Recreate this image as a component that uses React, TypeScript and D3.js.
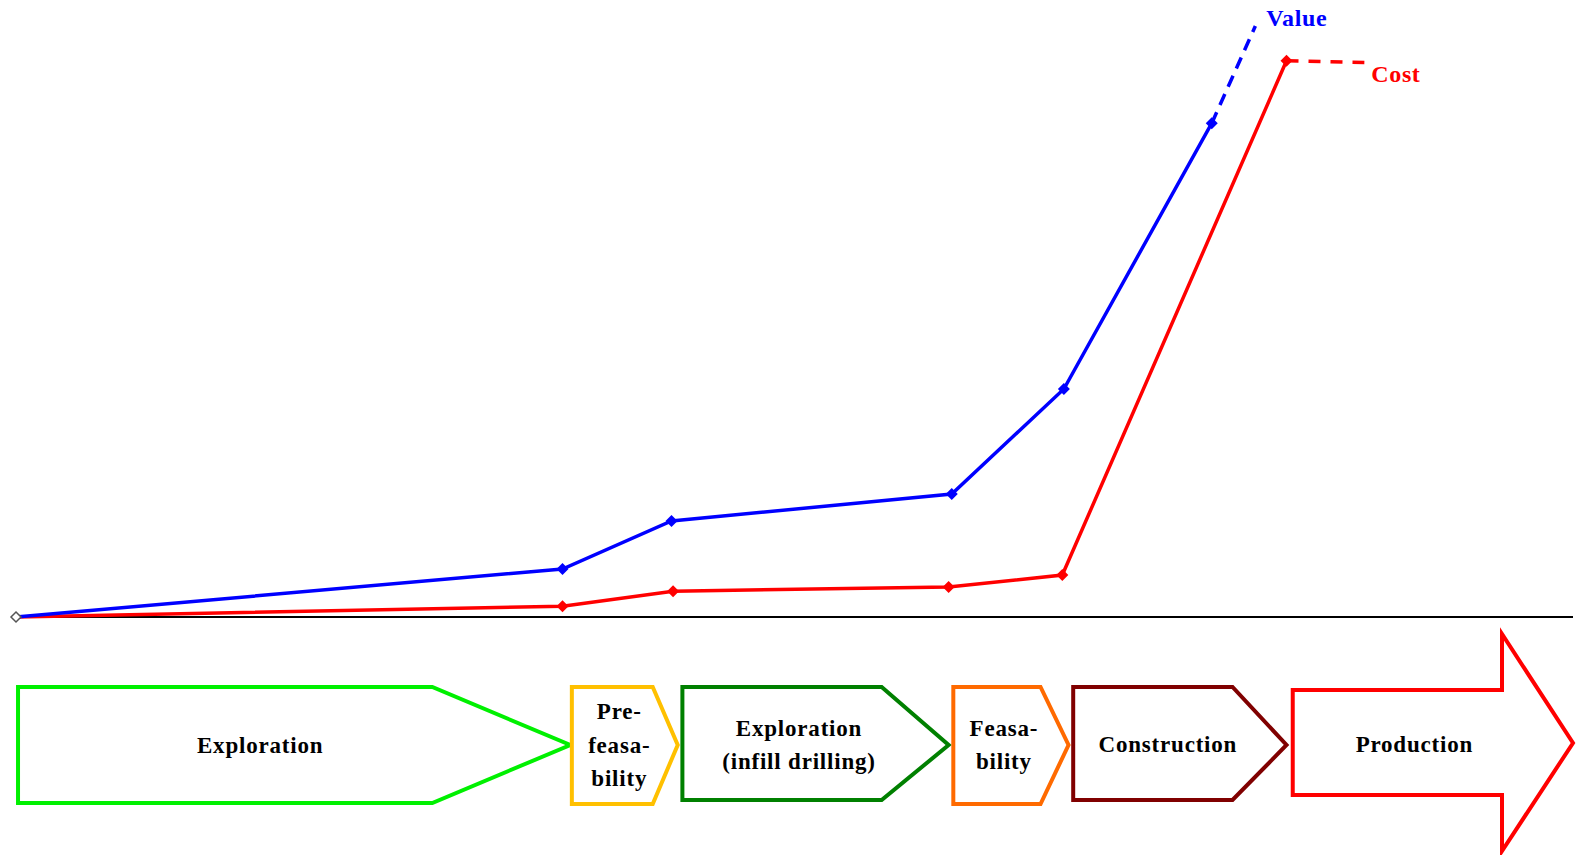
import React from "react";
import * as d3 from "d3";

// x: project timeline (0-100), y: relative amount (0-100)
const valueX = [0, 35.1, 42.1, 60.1, 67.3, 76.8];
const valueY = [0, 8, 16, 20.5, 38, 82.3];
const valueDashX = [76.8, 79.6];
const valueDashY = [82.3, 98.5];

const costX = [0, 35.1, 42.2, 59.9, 67.2, 81.6];
const costY = [0, 1.8, 4.3, 5, 7, 92.7];
const costDashX = [81.6, 86.6];
const costDashY = [92.7, 92.4];

const stageNames = [
  ["Exploration"],
  ["Pre-", "feasa-", "bility"],
  ["Exploration", "(infill drilling)"],
  ["Feasa-", "bility"],
  ["Construction"],
  ["Production"],
];
const stageStart = [0.13, 35.7, 42.8, 60.2, 67.9, 82.0];
const stageEnd = [35.6, 42.5, 59.9, 67.6, 81.6, 100];

const W = 1579;
const H = 855;

export default function App() {
  const x = d3.scaleLinear().domain([0, 100]).range([16, 1573]);
  const y = d3.scaleLinear().domain([0, 100]).range([617, 17]);
  const line = d3
    .line<[number, number]>()
    .x((d) => x(d[0]))
    .y((d) => y(d[1]));

  const valuePts: [number, number][] = valueX.map((v, i) => [v, valueY[i]]);
  const costPts: [number, number][] = costX.map((v, i) => [v, costY[i]]);
  const valueDash: [number, number][] = valueDashX.map((v, i) => [v, valueDashY[i]]);
  const costDash: [number, number][] = costDashX.map((v, i) => [v, costDashY[i]]);

  const colors = ["#00f000", "#ffc000", "#008000", "#ff6a00", "#800000", "#ff0000"];
  const depths = [138, 25, 67, 28, 54, 71];
  const tops = [687, 687, 687, 687, 687, 690];
  const bottoms = [803, 804, 800, 804, 800, 795];
  const textShift = [35, 7, 17, 7, 15, 17];

  const diamond = (cx: number, cy: number, r: number) =>
    `M${cx},${cy - r}L${cx + r},${cy}L${cx},${cy + r}L${cx - r},${cy}Z`;

  const fontFamily = "'Liberation Serif', 'Times New Roman', serif";

  return (
    <svg
      width={W}
      height={H}
      style={{ position: "absolute", left: 0, top: 0, background: "#fff" }}
    >
      <rect x={0} y={0} width={W} height={H} fill="#fff" />
      {/* baseline */}
      <line x1={x(0)} x2={x(100)} y1={y(0)} y2={y(0)} stroke="#000" strokeWidth={2} />

      {/* cost */}
      <path d={line(costPts) || ""} fill="none" stroke="#ff0000" strokeWidth={3.5} />
      <path d={line(costDash) || ""} fill="none" stroke="#ff0000" strokeWidth={3.5} strokeDasharray="12,10" />
      {costPts.slice(1).map((p, i) => (
        <path key={"c" + i} d={diamond(x(p[0]), y(p[1]), 6)} fill="#ff0000" />
      ))}

      {/* value */}
      <path d={line(valuePts) || ""} fill="none" stroke="#0000ff" strokeWidth={3.5} />
      <path d={line(valueDash) || ""} fill="none" stroke="#0000ff" strokeWidth={3.5} strokeDasharray="12,8" />
      {valuePts.slice(1).map((p, i) => (
        <path key={"v" + i} d={diamond(x(p[0]), y(p[1]), 6)} fill="#0000ff" />
      ))}

      {/* origin marker */}
      <path d={diamond(x(0), y(0), 5)} fill="#fff" stroke="#555" strokeWidth={1.5} />

      <text
        x={x(valueDashX[1]) + 11}
        y={y(valueDashY[1])}
        fill="#0000ff"
        fontFamily={fontFamily}
        fontWeight="bold"
        fontSize={24}
        letterSpacing={0.6}
      >
        Value
      </text>
      <text
        x={x(costDashX[1]) + 7}
        y={y(costDashY[1]) + 19}
        fill="#ff0000"
        fontFamily={fontFamily}
        fontWeight="bold"
        fontSize={24}
        letterSpacing={0.6}
      >
        Cost
      </text>

      {/* stages */}
      {stageNames.map((lines, i) => {
        const x0 = x(stageStart[i]);
        const x1 = x(stageEnd[i]);
        const t = tops[i];
        const b = bottoms[i];
        const mid = 745;
        let d: string;
        let cx: number;
        if (i === stageNames.length - 1) {
          const hx = x1 - depths[i];
          d = `M${x0},${t}L${hx},${t}L${hx},634L${x1},${743}L${hx},851L${hx},${b}L${x0},${b}Z`;
          cx = (x0 + hx) / 2 + textShift[i];
        } else {
          const cxr = x1 - depths[i];
          d = `M${x0},${t}L${cxr},${t}L${x1},${mid}L${cxr},${b}L${x0},${b}Z`;
          cx = (x0 + cxr) / 2 + textShift[i];
        }
        const lh = 33.5;
        const cy = i >= 4 ? 744 : mid;
        const startY = cy - ((lines.length - 1) * lh) / 2;
        return (
          <g key={"s" + i}>
            <path d={d} fill="#fff" stroke={colors[i]} strokeWidth={4} strokeLinejoin="miter" />
            {lines.map((ln, j) => (
              <text
                key={j}
                x={cx}
                y={startY + j * lh}
                textAnchor="middle"
                dominantBaseline="central"
                fontFamily={fontFamily}
                fontWeight="bold"
                fontSize={23}
                letterSpacing={0.8}
                fill="#000"
              >
                {ln}
              </text>
            ))}
          </g>
        );
      })}
    </svg>
  );
}
